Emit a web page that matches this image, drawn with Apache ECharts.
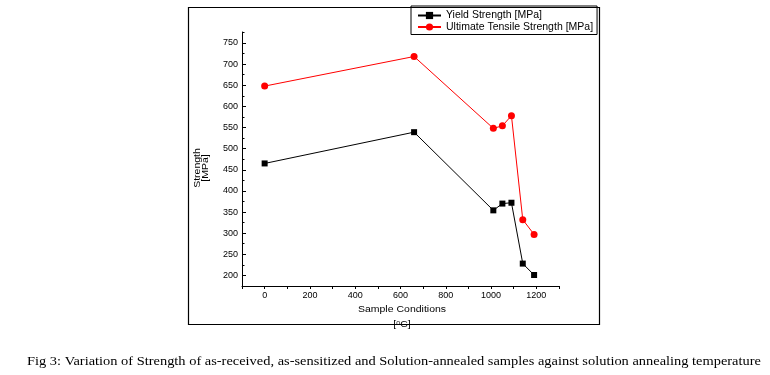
<!DOCTYPE html>
<html>
<head>
<meta charset="utf-8">
<style>
  html, body { margin: 0; padding: 0; background: #fff; }
  #chart { width: 770px; height: 375px; }
</style>
<script src="https://cdn.jsdelivr.net/npm/echarts@6/dist/echarts.min.js"></script>
</head>
<body>
<div id="chart"></div>
<script>
// values
const temps = [0, 660, 1010, 1050, 1090, 1140, 1190]
const yieldStrength = [465, 539, 354, 370, 372, 228, 201]
const uts = [648, 718, 548, 554, 578, 332, 297]

const yMajor = [200, 250, 300, 350, 400, 450, 500, 550, 600, 650, 700, 750]
const yMinor = [225, 275, 325, 375, 425, 475, 525, 575, 625, 675, 725, 775]
const xLabels = [0, 200, 400, 600, 800, 1000, 1200]

const font = 'Liberation Sans, Arial, sans-serif'

const chart = echarts.init(document.getElementById('chart'), null, { renderer: 'canvas' })

const option = {
  animation: false,
  backgroundColor: '#fff',
  grid: { left: 242, right: 211, top: 32, bottom: 89 },
  legend: {
    orient: 'vertical',
    left: 411,
    top: 6,
    padding: [4, 4, 2, 6],
    itemGap: 0.5,
    itemWidth: 23,
    itemHeight: 9,
    borderColor: '#000',
    borderWidth: 1,
    textStyle: { fontFamily: font, fontSize: 10.5, color: '#000', lineHeight: 10 },
    data: ['Yield Strength [MPa]', 'Ultimate Tensile Strength [MPa]']
  },
  xAxis: {
    type: 'value',
    min: -100,
    max: 1300,
    interval: 100,
    splitLine: { show: false },
    axisLine: { onZero: false, lineStyle: { color: '#000', width: 1 } },
    axisTick: { inside: false, length: 3, lineStyle: { color: '#000' } },
    axisLabel: {
      margin: 5,
      fontFamily: font,
      fontSize: 9,
      color: '#000',
      formatter: v => (xLabels.indexOf(v) >= 0 ? String(v) : '')
    }
  },
  yAxis: [
    {
      type: 'value',
      min: 175,
      max: 776,
      splitLine: { show: false },
      axisLine: { show: true, onZero: false, lineStyle: { color: '#000', width: 1 } },
      axisTick: { inside: true, length: 4, customValues: yMajor, lineStyle: { color: '#000' } },
      axisLabel: {
        margin: 4,
        fontFamily: font,
        fontSize: 9,
        color: '#000',
        customValues: yMajor
      }
    },
    {
      type: 'value',
      min: 175,
      max: 776,
      position: 'left',
      splitLine: { show: false },
      axisLine: { show: false, onZero: false },
      axisTick: { inside: true, length: 2.5, customValues: yMinor, lineStyle: { color: '#000' } },
      axisLabel: { show: false }
    }
  ],
  series: [
    {
      name: 'Yield Strength [MPa]',
      type: 'line',
      symbol: 'rect',
      symbolSize: 6,
      color: '#000',
      lineStyle: { width: 1, color: '#000' },
      data: temps.map((t, i) => [t, yieldStrength[i]])
    },
    {
      name: 'Ultimate Tensile Strength [MPa]',
      type: 'line',
      symbol: 'circle',
      symbolSize: 7,
      color: '#ff0000',
      lineStyle: { width: 1, color: '#ff0000' },
      data: temps.map((t, i) => [t, uts[i]])
    }
  ],
  graphic: [
    {
      type: 'rect',
      shape: { x: 188.5, y: 7.5, width: 411, height: 317 },
      style: { fill: 'none', stroke: '#000', lineWidth: 1.2 },
      silent: true,
      z: -1
    },
    {
      type: 'text',
      x: 201.5,
      y: 168,
      rotation: Math.PI / 2,
      scaleY: 0.78,
      style: {
        text: 'Strength\n[MPa]',
        fontFamily: font,
        fontSize: 10.5,
        lineHeight: 10,
        fill: '#000',
        align: 'center',
        verticalAlign: 'middle'
      }
    },
    {
      type: 'text',
      x: 402,
      y: 310,
      scaleY: 0.85,
      style: {
        text: 'Sample Conditions',
        fontFamily: font,
        fontSize: 10.5,
        fill: '#000',
        align: 'center',
        verticalAlign: 'middle'
      }
    },
    {
      type: 'text',
      x: 402,
      y: 325,
      scaleY: 0.85,
      style: {
        text: '[{sup|0}C]',
        fontFamily: font,
        fontSize: 10.5,
        fill: '#000',
        align: 'center',
        verticalAlign: 'middle',
        rich: {
          sup: { fontFamily: font, fontSize: 7, padding: [0, 0, 5, 0], fill: '#000' }
        }
      }
    },
    {
      type: 'text',
      x: 27,
      y: 361,
      scaleX: 1.068,
      style: {
        text: 'Fig 3: Variation of Strength of as-received, as-sensitized and Solution-annealed samples against solution annealing temperature',
        fontFamily: 'Liberation Serif, Times New Roman, serif',
        fontSize: 13.5,
        fill: '#000',
        align: 'left',
        verticalAlign: 'middle'
      }
    }
  ]
}

chart.setOption(option)
</script>
</body>
</html>
